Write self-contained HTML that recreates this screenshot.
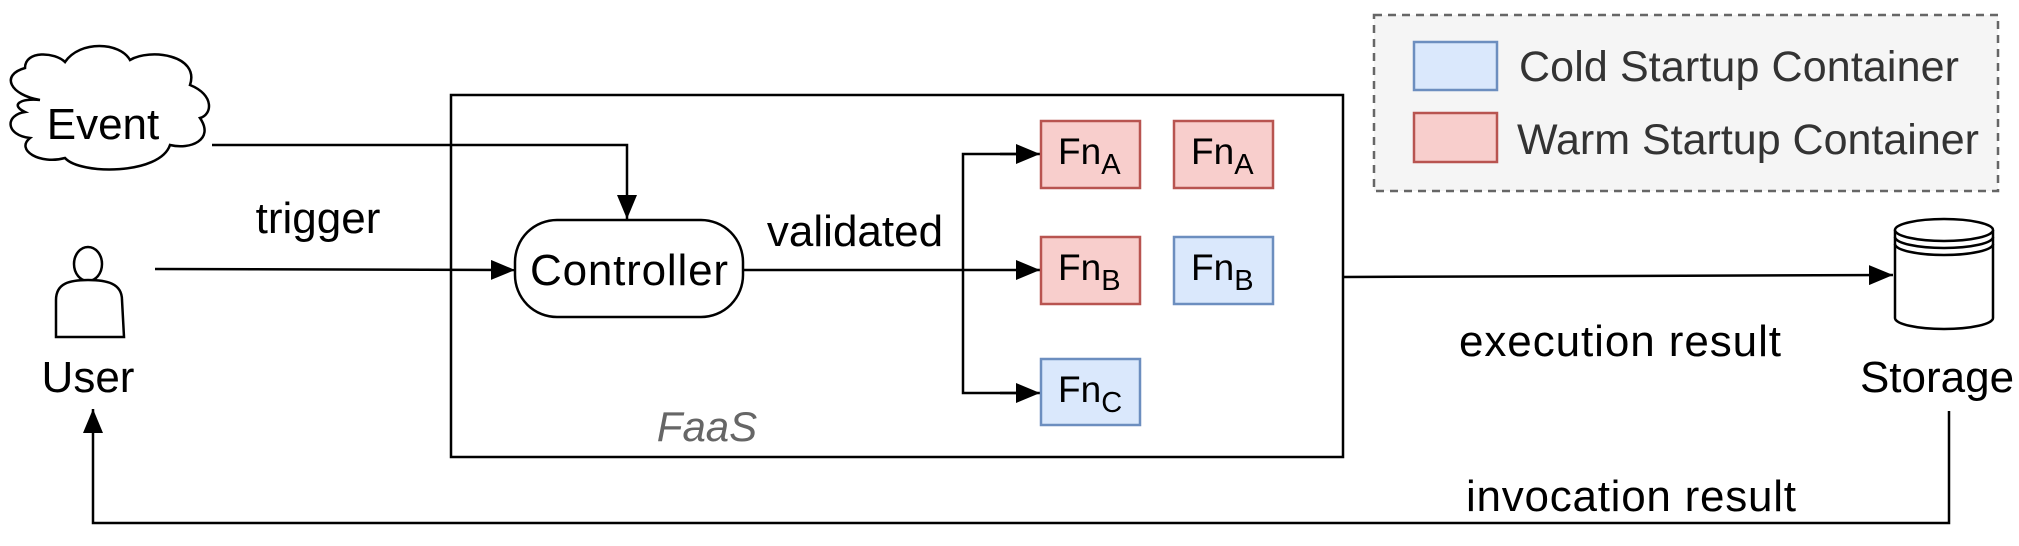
<!DOCTYPE html>
<html><head><meta charset="utf-8"><style>
html,body{margin:0;padding:0;background:#fff;}
svg{display:block;font-family:"Liberation Sans",Arial,sans-serif;}
</style></head><body>
<svg width="2019" height="546" viewBox="0 0 2019 546">
<defs>
<marker id="ar2" viewBox="0 0 10 10" refX="10" refY="5" markerWidth="24" markerHeight="20" orient="auto" markerUnits="userSpaceOnUse" preserveAspectRatio="none"><path d="M0,0 L10,5 L0,10 z" fill="#000"/></marker>
</defs>
<g>
<rect x="1374" y="15" width="624" height="176" fill="#f5f5f5" stroke="#666" stroke-width="2.5" stroke-dasharray="8,6"/>
<rect x="1414" y="42" width="83" height="48" fill="#dae8fc" stroke="#6c8ebf" stroke-width="2.5"/>
<rect x="1414" y="113" width="83" height="49" fill="#f8cecc" stroke="#b85450" stroke-width="2.5"/>
<text x="1519" y="81" font-size="43" fill="#333" textLength="440">Cold Startup Container</text>
<text x="1517" y="154" font-size="43" fill="#333" textLength="462">Warm Startup Container</text>
</g>
<rect x="451" y="95" width="892" height="362" fill="none" stroke="#000" stroke-width="2.5"/>
<text x="707" y="441" font-size="42" font-style="italic" fill="#666" text-anchor="middle">FaaS</text>
<g>
<path d="M40,100 C10,95 0,75 25,68 C25,50 55,52 65,62 C80,40 120,42 130,60 C150,48 200,55 190,85 C215,95 212,115 200,118 C215,140 190,150 170,145 C160,175 80,175 65,158 C40,165 15,150 30,138 C5,135 5,115 25,112 C10,105 20,98 40,100 Z" fill="#fff" stroke="#000" stroke-width="2.5"/>
<text x="103" y="139" font-size="44" text-anchor="middle">Event</text>
</g>
<polyline points="212,145 627,145 627,219" fill="none" stroke="#000" stroke-width="2.5" marker-end="url(#ar2)"/>
<g>
<ellipse cx="88" cy="264" rx="14" ry="17" fill="#fff" stroke="#000" stroke-width="2.5"/>
<path d="M56,337 L56,300 C56,283 70,280 88,280 C106,280 122,283 122,300 L124,337 Z" fill="#fff" stroke="#000" stroke-width="2.5"/>
</g>
<text x="88" y="392" font-size="44" text-anchor="middle">User</text>
<line x1="155" y1="269" x2="515" y2="270" stroke="#000" stroke-width="2.5" marker-end="url(#ar2)"/>
<text x="318" y="233" font-size="44" text-anchor="middle">trigger</text>
<rect x="515" y="220" width="228" height="97" rx="42" fill="#fff" stroke="#000" stroke-width="2.5"/>
<text x="629" y="285" font-size="44" text-anchor="middle" textLength="198">Controller</text>
<text x="855" y="246" font-size="44" text-anchor="middle">validated</text>
<line x1="743" y1="270" x2="1040" y2="270" stroke="#000" stroke-width="2.5" marker-end="url(#ar2)"/>
<polyline points="1020,154 963,154 963,393 1020,393" fill="none" stroke="#000" stroke-width="2.5"/>
<line x1="1000" y1="154" x2="1040" y2="154" stroke="#000" stroke-width="2.5" marker-end="url(#ar2)"/>
<line x1="1000" y1="393" x2="1040" y2="393" stroke="#000" stroke-width="2.5" marker-end="url(#ar2)"/>
<g font-size="37">
<rect x="1041" y="121" width="99" height="67" fill="#f8cecc" stroke="#b85450" stroke-width="2.5"/>
<text x="1058" y="164">Fn<tspan font-size="29" dy="10">A</tspan></text>
<rect x="1174" y="121" width="99" height="67" fill="#f8cecc" stroke="#b85450" stroke-width="2.5"/>
<text x="1191" y="164">Fn<tspan font-size="29" dy="10">A</tspan></text>
<rect x="1041" y="237" width="99" height="67" fill="#f8cecc" stroke="#b85450" stroke-width="2.5"/>
<text x="1058" y="280">Fn<tspan font-size="29" dy="10">B</tspan></text>
<rect x="1174" y="237" width="99" height="67" fill="#dae8fc" stroke="#6c8ebf" stroke-width="2.5"/>
<text x="1191" y="280">Fn<tspan font-size="29" dy="10">B</tspan></text>
<rect x="1041" y="359" width="99" height="66" fill="#dae8fc" stroke="#6c8ebf" stroke-width="2.5"/>
<text x="1058" y="402">Fn<tspan font-size="29" dy="10">C</tspan></text>
</g>
<line x1="1343" y1="277" x2="1893" y2="275" stroke="#000" stroke-width="2.5" marker-end="url(#ar2)"/>
<text x="1620" y="356" font-size="44" text-anchor="middle" textLength="322">execution result</text>
<g fill="#fff" stroke="#000" stroke-width="2.5">
<path d="M1895,230 L1895,318 A49,11 0 0 0 1993,318 L1993,230"/>
<ellipse cx="1944" cy="230" rx="49" ry="11"/>
<path d="M1895,237 A49,11 0 0 0 1993,237" fill="none"/>
<path d="M1895,244 A49,11 0 0 0 1993,244" fill="none"/>
</g>
<text x="1937" y="392" font-size="44" text-anchor="middle">Storage</text>
<polyline points="1949,411 1949,523 93,523 93,409" fill="none" stroke="#000" stroke-width="2.5" marker-end="url(#ar2)"/>
<text x="1631" y="511" font-size="44" text-anchor="middle" textLength="330">invocation result</text>
</svg>
</body></html>
